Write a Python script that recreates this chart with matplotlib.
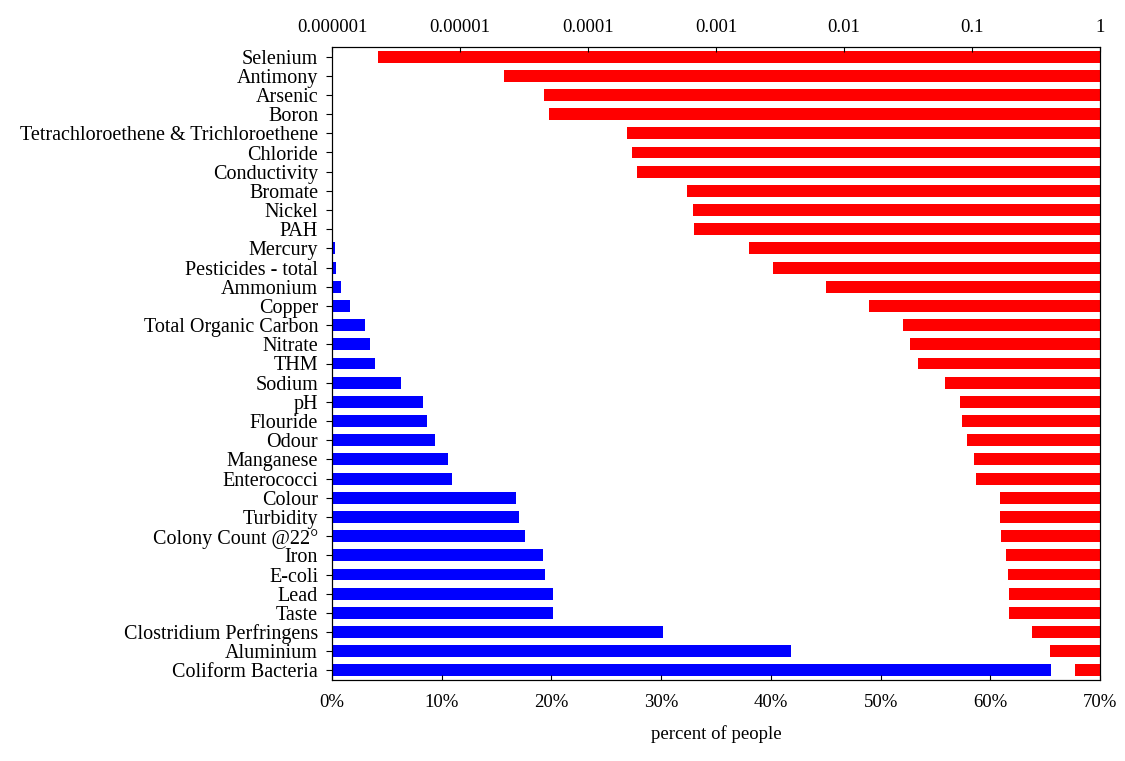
import matplotlib
matplotlib.use("Agg")
import matplotlib.pyplot as plt
import numpy as np

plt.rcParams['font.family'] = ['Liberation Serif', 'DejaVu Serif']

names = ["Selenium","Antimony","Arsenic","Boron","Tetrachloroethene & Trichloroethene","Chloride",
         "Conductivity","Bromate","Nickel","PAH","Mercury","Pesticides - total","Ammonium","Copper",
         "Total Organic Carbon","Nitrate","THM","Sodium","pH","Flouride","Odour","Manganese",
         "Enterococci","Colour","Turbidity","Colony Count @22°","Iron","E-coli","Lead","Taste",
         "Clostridium Perfringens","Aluminium","Coliform Bacteria"]
percent = [0.03,0.02,0.02,0.02,0.02,0.02,0.02,0.1,0.1,0.1,0.25,0.35,0.8,1.6,3.0,3.5,3.9,6.3,8.3,8.7,
           9.4,10.6,10.9,16.8,17.0,17.6,19.2,19.4,20.1,20.1,30.2,41.8,65.5]
prob = [2.3e-6,2.2e-5,4.5e-5,5.0e-5,2.0e-4,2.2e-4,2.4e-4,5.9e-4,6.6e-4,6.7e-4,1.8e-3,2.8e-3,7.2e-3,
        0.0158,0.029,0.033,0.038,0.061,0.081,0.084,0.092,0.104,0.107,0.165,0.165,0.17,0.186,0.19,
        0.196,0.196,0.294,0.41,0.64]

fig = plt.figure(figsize=(11.25, 7.61), dpi=100)
ax = fig.add_axes([332/1125, 1-680/761, 768/1125, 633/761])
y = np.arange(len(names))
ax.barh(y, percent, height=0.62, color='#0000ff')
ax.set_xlim(0, 70)
ax.set_ylim(len(names)-0.5, -0.5)
ax.set_yticks(y)
ax.set_yticklabels(names, fontsize=14.5)
ax.set_xticks(range(0, 71, 10))
ax.set_xticklabels([f"{v}%" for v in range(0, 71, 10)], fontsize=13.5)
ax.tick_params(axis='x', direction='in', pad=10)
ax.tick_params(axis='y', direction='out', length=4, pad=6)
ax.set_xlabel("percent of people", fontsize=13.5, labelpad=10)

ax2 = ax.twiny()
ax2.set_xscale('log')
ax2.set_xlim(1e-6, 1)
ax2.barh(y, [1 - p for p in prob], left=prob, height=0.62, color='#ff0000')
ax2.set_ylim(len(names)-0.5, -0.5)
ticks = [1e-6,1e-5,1e-4,1e-3,1e-2,1e-1,1]
ax2.set_xticks(ticks)
ax2.set_xticklabels(["0.000001","0.00001","0.0001","0.001","0.01","0.1","1"], fontsize=13.5)
ax2.xaxis.set_minor_locator(matplotlib.ticker.NullLocator())
ax2.tick_params(axis='x', direction='in', pad=8)
fig.savefig("out.png", dpi=100)
